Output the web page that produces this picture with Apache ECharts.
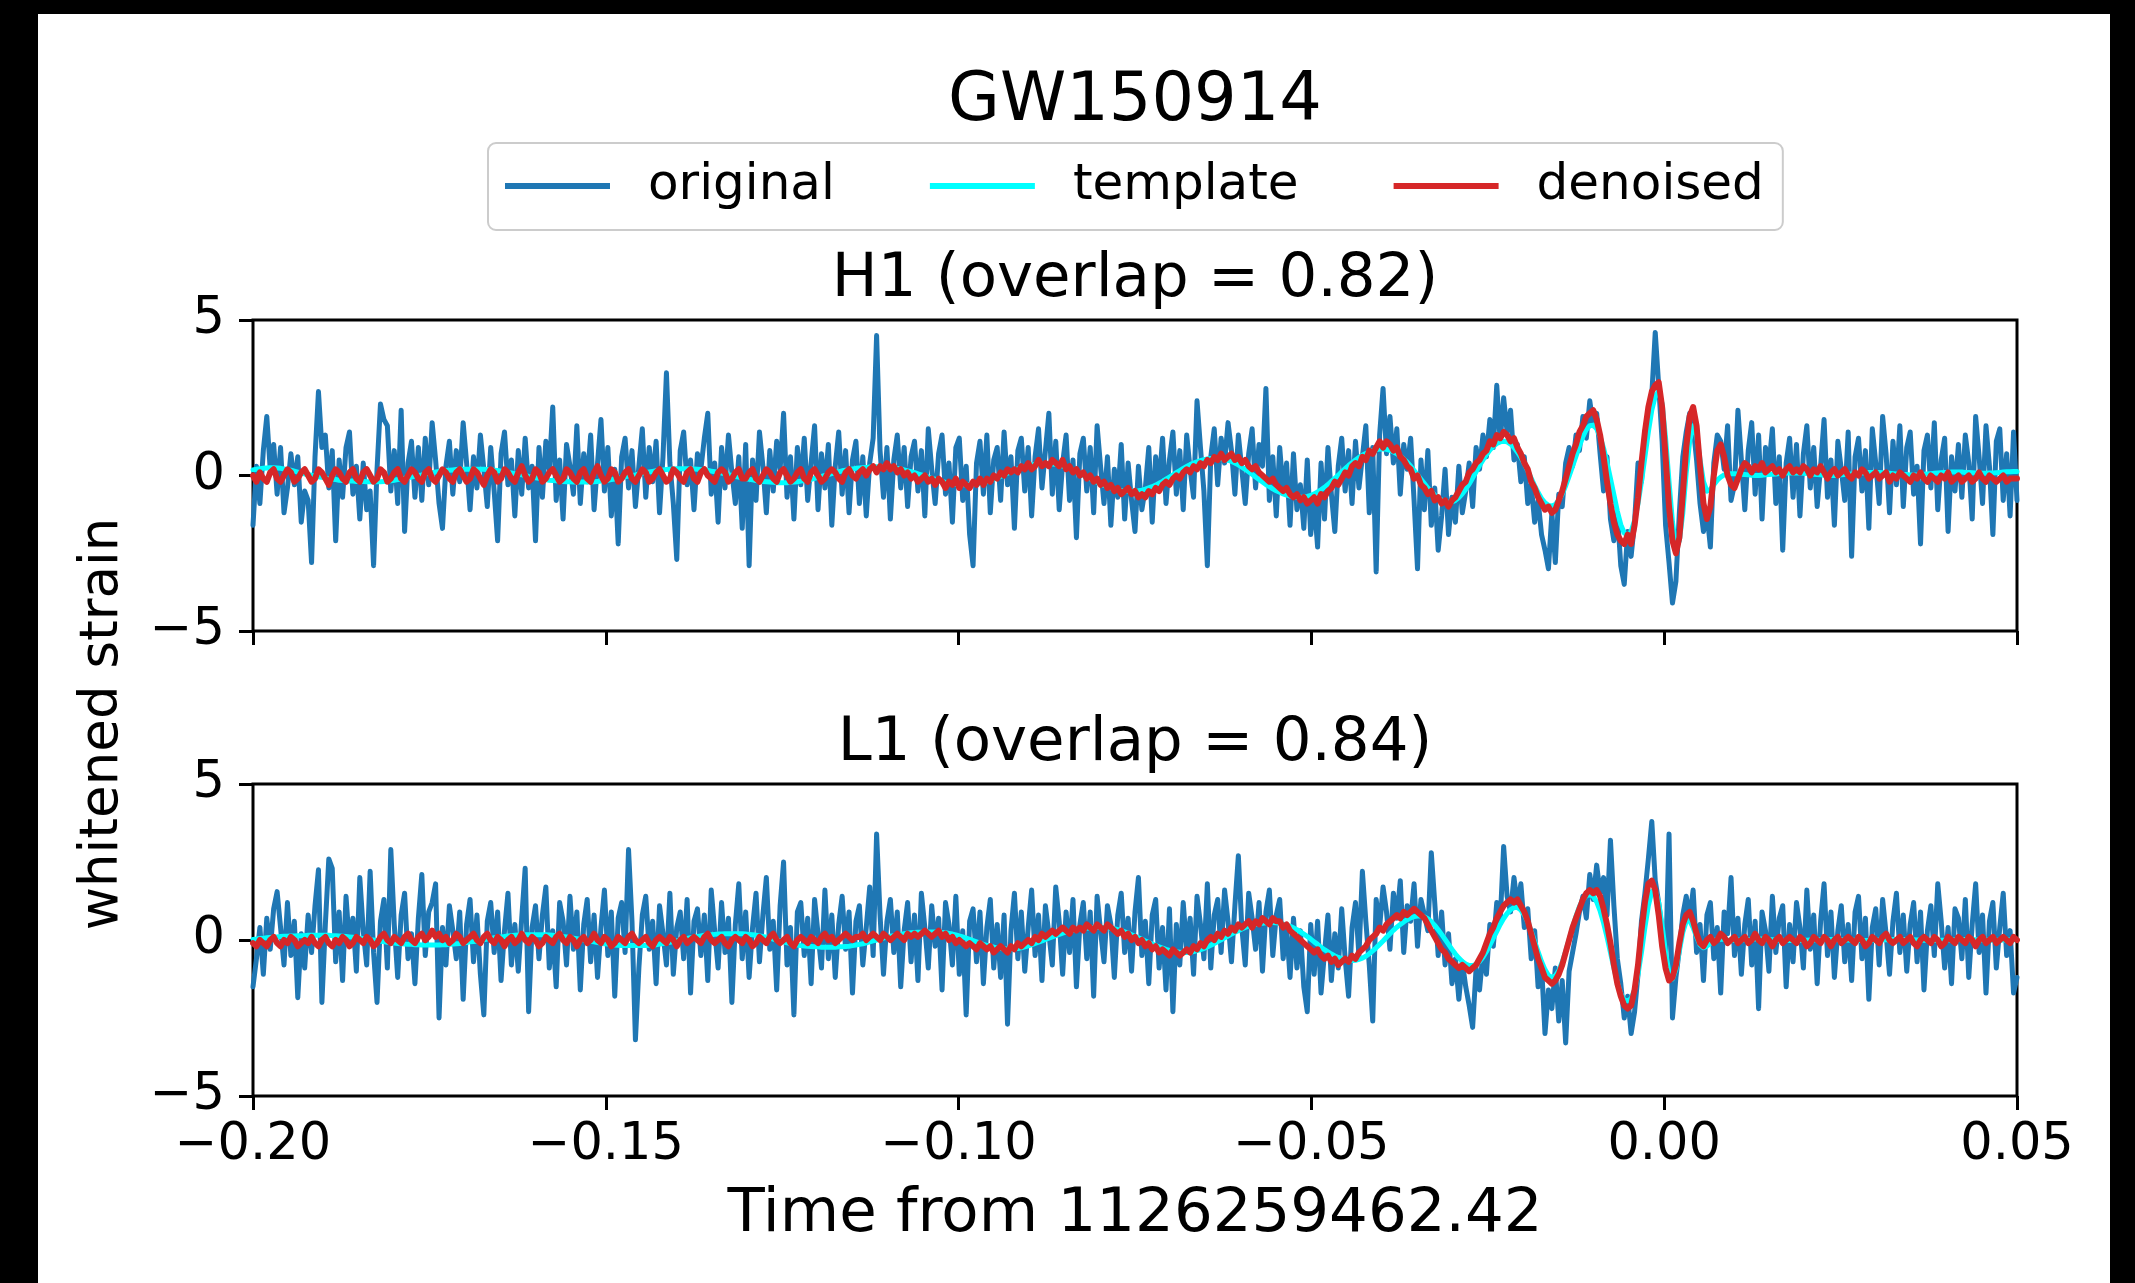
<!DOCTYPE html>
<html><head><meta charset="utf-8">
<script src="https://cdn.jsdelivr.net/npm/echarts@6/dist/echarts.min.js"></script>
<style>html,body{margin:0;padding:0;background:#000;}#c{width:2135px;height:1283px;}</style>
</head><body><div id="c"></div>
<script>
// time axis: samples start at T0 with step DT (seconds from 1126259462.42)
const T0 = -0.2;
const DT = 1 / 2048;
const X_MIN = -0.2, X_MAX = 0.05, X_STEP = 0.05;
const Y_MIN = -5, Y_MAX = 5, Y_STEP = 5;
const seriesNames = ['original', 'template', 'denoised'];
const panelTitles = ['H1 (overlap = 0.82)', 'L1 (overlap = 0.84)'];

const h1Original = [
-1.6,0.3,-0.9,0.8,1.9,0.2,1.0,-0.6,0.9,-1.2,-0.4,0.7,-0.3,0.6,-1.5,-0.5,
-0.8,-2.8,0.6,2.7,0.9,1.3,-0.4,0.8,-2.1,0.5,-0.7,0.9,1.4,-0.6,0.3,-1.4,
0.4,-1.1,-0.5,-2.9,0.2,2.3,1.8,1.6,-0.5,0.8,-0.9,2.1,-1.8,0.4,1.1,-0.7,
0.9,-0.8,1.2,-0.3,1.7,0.5,-0.9,-1.7,0.3,1.1,-0.6,0.8,-0.2,1.7,0.4,-1.1,
0.6,-0.4,1.3,0.2,-1.0,0.9,-0.5,-2.1,0.7,1.4,-0.3,0.5,-1.3,0.8,-0.6,1.2,
-0.4,0.3,-2.1,0.9,-0.7,1.1,0.2,2.2,-0.8,0.5,-1.4,1.0,0.3,-0.6,1.6,-0.9,
0.7,-0.2,1.3,-1.1,0.4,1.8,-0.5,0.9,-1.3,0.2,-2.2,0.6,1.2,-0.4,0.8,-1.0,
0.3,1.5,-0.7,0.9,-0.2,1.1,-1.2,0.6,3.3,0.4,-0.9,-2.7,0.8,1.4,-0.3,0.5,
-1.1,0.7,0.2,1.2,2.0,-0.6,0.4,-1.5,0.9,-0.4,1.3,0.1,-0.9,0.6,-1.7,1.0,
-2.9,0.5,-0.8,1.4,0.3,-1.2,0.8,-0.5,1.1,0.2,2.0,-0.7,0.6,-1.4,0.9,-0.3,
1.2,-0.8,0.4,1.6,-1.1,0.7,-0.4,1.0,-1.6,0.3,1.4,-0.6,0.8,-1.2,0.5,1.1,
-0.9,0.6,-1.3,0.4,1.2,4.5,0.8,-0.7,0.9,-1.4,0.5,1.3,-0.4,0.9,-1.0,0.6,
1.1,-0.5,0.8,-1.3,1.5,0.2,-0.9,0.7,1.3,-0.6,0.4,-1.5,0.9,1.2,-0.8,0.3,
-1.9,-2.9,0.4,1.1,-0.6,1.3,-1.2,0.5,0.9,-0.8,1.4,-0.3,0.6,-1.7,0.8,1.2,
-0.5,0.9,-1.3,0.6,1.5,-0.4,0.8,2.0,-0.6,1.1,-1.1,0.4,1.3,-0.8,0.5,-2.0,
0.7,1.2,-0.5,0.9,-1.2,1.6,0.3,-0.9,0.6,-1.6,0.2,-0.7,1.0,-1.4,0.4,-0.8,
-1.8,0.3,-1.1,-0.4,0.9,-1.5,0.6,-0.3,1.2,-0.9,0.5,1.4,-0.6,0.8,-1.1,1.3,
0.2,-0.7,2.4,0.9,-0.5,-2.9,0.6,1.5,-0.3,1.2,0.4,1.7,0.8,-0.6,1.3,0.2,
-0.9,0.7,1.5,-0.4,1.0,0.3,2.8,-0.8,0.6,-1.3,0.9,-0.5,0.4,-1.6,0.7,-1.1,
-0.3,-1.7,0.5,-1.9,-0.8,-2.3,0.4,-1.4,0.9,-0.6,-1.8,0.3,1.2,-0.5,0.8,-0.9,
1.1,-0.4,0.6,1.6,-1.2,0.9,-3.1,1.3,2.8,0.7,1.9,0.4,1.5,-0.6,1.0,0.2,
1.2,-0.8,-3.0,0.5,-1.1,0.8,-1.6,-0.4,-2.4,-1.3,0.2,-1.9,-0.7,-1.5,0.3,-1.2,
-0.5,0.4,-1.0,0.9,0.2,1.3,0.6,1.8,0.9,2.9,1.1,2.5,1.4,2.1,0.5,1.0,
-0.2,0.6,-0.9,-0.3,-1.5,-0.8,-1.9,-2.4,-3.0,-1.2,-2.8,-0.6,-1.0,0.4,0.9,0.3,
1.3,0.8,1.9,1.2,2.4,1.6,2.0,0.7,-0.5,0.6,-1.4,-2.1,-1.2,-2.9,-3.5,-1.8,
-2.6,-1.5,0.4,-0.2,1.4,2.0,2.6,4.6,2.9,1.1,-1.6,-2.8,-4.1,-3.4,-1.2,0.6,
1.4,2.0,1.6,0.5,-0.9,-1.8,-1.2,-2.3,0.4,1.3,1.1,0.2,1.6,-0.8,-0.3,2.1,
0.5,-1.1,0.8,1.7,-0.6,1.3,-1.4,0.9,0.3,1.5,-0.9,0.6,-2.4,0.4,1.2,-0.7,
1.0,-1.3,0.7,1.6,-0.4,0.9,-1.0,0.3,1.8,-0.7,0.5,-1.6,1.1,0.2,-0.8,1.4,
-2.6,0.6,1.2,-0.5,0.8,-1.7,1.5,0.4,-0.9,1.9,0.7,-1.2,1.1,-0.3,1.6,-1.0,
0.9,1.4,-0.6,0.3,-2.2,0.8,1.3,-0.4,1.7,-1.1,0.5,1.2,-1.8,0.6,-0.5,1.0,
-0.7,1.3,0.4,-1.4,1.9,0.6,-0.9,1.6,0.3,-1.9,1.1,1.5,-0.8,0.7,-1.3,1.4,
-0.8];

const h1Template = [
.18,.2,.22,.23,.24,.25,.25,.24,.23,.21,.19,.17,.14,.11,.08,.05,
.03,.01,-.02,-.04,-.06,-.08,-.1,-.12,-.13,-.15,-.16,-.17,-.18,-.18,-.19,-.19,
-.19,-.2,-.2,-.2,-.2,-.2,-.19,-.18,-.17,-.15,-.13,-.11,-.09,-.07,-.05,-.02,
0,.02,.05,.07,.09,.11,.13,.15,.16,.17,.18,.19,.2,.2,.2,.2,
.2,.2,.2,.2,.19,.18,.17,.16,.14,.12,.1,.08,.06,.04,.02,0,
-.03,-.05,-.07,-.09,-.11,-.13,-.15,-.16,-.17,-.18,-.19,-.2,-.2,-.21,-.21,-.21,
-.21,-.21,-.2,-.2,-.19,-.18,-.16,-.15,-.13,-.11,-.09,-.07,-.04,-.02,0,.02,
.05,.07,.09,.11,.13,.15,.17,.18,.19,.2,.21,.22,.22,.22,.22,.22,
.21,.2,.19,.18,.16,.14,.12,.1,.08,.05,.03,0,-.03,-.05,-.08,-.1,
-.12,-.14,-.16,-.18,-.19,-.2,-.21,-.22,-.23,-.23,-.23,-.23,-.22,-.21,-.2,-.18,
-.16,-.14,-.12,-.09,-.06,-.03,0,.03,.06,.09,.12,.15,.17,.19,.21,.23,
.24,.25,.26,.27,.27,.28,.28,.28,.27,.26,.25,.23,.21,.18,.15,.12,
.09,.05,.02,-.02,-.05,-.09,-.12,-.16,-.19,-.22,-.24,-.26,-.28,-.29,-.3,-.3,
-.3,-.29,-.28,-.26,-.23,-.2,-.16,-.12,-.08,-.03,.02,.07,.12,.17,.21,.25,
.28,.31,.34,.36,.37,.38,.38,.38,.37,.36,.33,.3,.26,.22,.17,.12,
.07,.01,-.05,-.11,-.17,-.22,-.27,-.32,-.36,-.4,-.43,-.46,-.48,-.49,-.5,-.5,
-.5,-.49,-.47,-.44,-.4,-.36,-.31,-.25,-.19,-.12,-.05,.02,.09,.16,.23,.29,
.35,.4,.44,.48,.51,.53,.55,.55,.55,.54,.52,.49,.45,.4,.34,.27,
.2,.12,.04,-.05,-.13,-.21,-.29,-.36,-.43,-.49,-.54,-.59,-.63,-.66,-.68,-.7,
-.7,-.69,-.67,-.64,-.59,-.53,-.46,-.38,-.29,-.19,-.09,.01,.12,.22,.32,.41,
.5,.58,.65,.71,.76,.8,.83,.85,.85,.84,.81,.76,.7,.62,.53,.43,
.3,.16,.02,-.12,-.26,-.4,-.52,-.63,-.72,-.79,-.84,-.86,-.85,-.8,-.71,-.59,
-.44,-.27,-.08,.12,.32,.5,.67,.82,.94,1.03,1.08,1.1,1.08,1.01,.9,.75,
.58,.38,.15,-.09,-.33,-.55,-.74,-.88,-.96,-.98,-.93,-.8,-.6,-.33,-.02,.3,
.62,.95,1.25,1.48,1.6,1.62,1.5,1.25,.88,.42,-.1,-.62,-1.15,-1.58,-1.85,-1.93,
-1.8,-1.45,-.9,-.2,.6,1.4,2.1,2.55,2.7,2.3,1.2,-.2,-1.5,-2.3,-2.1,-1.2,
.1,1.1,1.6,1.3,.5,-.2,-.5,-.45,-.3,-.15,-.05,.02,.05,.06,.06,.05,
.04,.03,.02,.01,0,0,.01,.02,.03,.04,.05,.06,.07,.08,.08,.08,
.08,.08,.07,.06,.05,.04,.03,.02,.01,0,0,0,.01,.02,.03,.04,
.05,.06,.07,.08,.09,.1,.1,.1,.1,.09,.08,.07,.06,.05,.04,.03,
.03,.02,.02,.02,.03,.04,.05,.06,.07,.08,.09,.1,.1,.11,.11,.11,
.11,.1,.1,.09,.08,.08,.07,.07,.08,.08,.09,.1,.11,.12,.12,.13,
.13];

const h1Denoised = [
0.0,-0.2,0.1,-0.1,-0.2,0.1,0.2,-0.1,-0.2,0.0,0.2,0.1,-0.2,-0.1,0.1,0.2,
0.0,-0.2,-0.1,0.2,0.1,-0.1,-0.3,0.0,0.2,0.1,-0.1,-0.2,0.1,0.2,-0.1,-0.2,
0.1,0.2,0.0,-0.2,-0.1,0.2,0.1,-0.2,-0.1,0.1,0.2,-0.1,-0.2,0.0,0.2,0.1,
-0.1,-0.2,0.1,0.2,-0.1,-0.2,0.0,0.2,0.1,-0.1,-0.2,0.1,0.2,0.0,-0.2,-0.1,
0.2,0.1,-0.1,-0.3,0.0,0.2,0.1,-0.2,-0.1,0.2,0.1,-0.1,-0.2,0.1,0.3,0.0,
-0.2,-0.1,0.2,0.1,-0.2,-0.1,0.1,0.2,0.0,-0.2,-0.1,0.2,0.1,-0.1,-0.2,0.1,
0.2,-0.1,-0.2,0.1,0.3,0.0,-0.2,-0.1,0.2,0.1,-0.2,-0.1,0.1,0.2,-0.1,-0.2,
0.0,0.2,0.1,-0.2,-0.1,0.1,0.2,0.0,-0.2,-0.1,0.2,0.1,-0.1,-0.2,0.1,0.2,
-0.1,-0.2,0.1,0.2,0.0,-0.1,-0.2,0.1,0.2,0.1,-0.2,-0.1,0.1,0.2,-0.1,-0.1,
0.1,0.2,-0.1,-0.2,0.0,0.2,0.1,-0.1,-0.2,0.1,0.2,0.0,-0.2,-0.1,0.1,0.2,
-0.1,-0.2,0.1,0.2,0.0,-0.2,-0.1,0.1,0.2,0.1,-0.1,-0.2,0.1,0.2,0.0,-0.1,
0.1,0.2,0.0,0.2,0.3,0.1,0.3,0.2,0.4,0.2,0.3,0.1,0.2,0.0,0.1,-0.1,
0.0,-0.2,-0.1,0.0,-0.2,-0.1,-0.3,-0.1,-0.2,-0.4,-0.2,-0.3,-0.1,-0.4,-0.2,-0.3,
-0.4,-0.2,-0.3,-0.1,-0.3,-0.1,-0.2,0.0,-0.1,0.1,0.0,0.2,0.1,0.2,0.1,0.3,
0.2,0.4,0.2,0.3,0.5,0.3,0.4,0.3,0.5,0.4,0.3,0.5,0.2,0.3,0.1,0.2,
0.0,0.1,-0.1,0.0,-0.2,-0.1,-0.3,-0.2,-0.4,-0.3,-0.5,-0.4,-0.6,-0.5,-0.4,-0.6,
-0.5,-0.7,-0.6,-0.7,-0.5,-0.6,-0.4,-0.5,-0.3,-0.2,-0.3,-0.1,0.0,-0.1,0.1,0.2,
0.1,0.3,0.2,0.4,0.3,0.5,0.4,0.6,0.5,0.7,0.5,0.6,0.7,0.5,0.6,0.4,
0.5,0.3,0.2,0.3,0.1,0.0,-0.1,-0.2,-0.1,-0.3,-0.4,-0.5,-0.4,-0.6,-0.7,-0.6,
-0.8,-0.7,-0.9,-0.8,-0.7,-0.9,-0.6,-0.7,-0.5,-0.4,-0.2,-0.3,-0.1,0.1,0.0,0.3,
0.4,0.3,0.6,0.5,0.8,0.7,0.9,1.1,0.9,1.1,1.0,0.8,0.9,0.6,0.5,0.3,
0.2,-0.1,0.0,-0.3,-0.4,-0.6,-0.5,-0.8,-0.7,-0.9,-0.8,-1.0,-0.8,-0.7,-0.5,-0.3,
-0.2,0.1,0.2,0.4,0.5,0.7,0.8,1.1,1.0,1.3,1.2,1.4,1.3,1.1,1.2,0.9,
0.7,0.4,0.2,-0.2,-0.4,-0.7,-0.9,-1.1,-1.0,-1.2,-1.1,-0.8,-0.5,-0.1,0.3,0.7,
1.0,1.4,1.6,1.9,2.0,2.1,1.8,1.3,0.6,-0.2,-0.9,-1.5,-1.9,-2.1,-2.2,-1.9,
-2.2,-1.6,-0.7,0.4,1.4,2.2,2.7,2.9,3.0,2.2,0.6,-1.0,-2.1,-2.5,-2.0,-0.6,
0.9,1.9,2.2,1.6,0.3,-0.9,-1.4,-1.0,0.0,0.8,1.0,0.6,0.0,-0.3,-0.4,-0.1,
0.2,0.4,0.3,0.1,0.3,0.2,0.4,0.1,0.2,0.3,0.1,0.2,0.0,0.2,0.3,0.1,
0.2,0.1,0.3,0.2,0.0,0.2,0.1,0.3,0.1,-0.1,0.1,0.2,0.0,0.1,0.2,0.0,
-0.1,0.1,0.0,0.2,0.1,-0.1,0.0,0.1,-0.1,0.0,0.1,-0.2,0.0,-0.1,0.1,0.0,
-0.1,-0.2,0.0,-0.1,0.1,-0.1,-0.2,0.0,-0.1,-0.2,0.0,-0.1,0.1,-0.2,-0.1,0.0,
-0.2,-0.1,0.0,-0.2,-0.1,0.1,-0.1,-0.2,0.0,-0.1,-0.2,-0.1,0.0,-0.2,-0.1,-0.1,
-0.1];

const l1Original = [
-1.5,-0.6,0.4,-1.1,0.7,-0.3,1.0,1.55,0.4,-0.8,1.2,-0.5,0.6,-1.85,0.2,-0.9,
0.8,-0.4,1.1,2.25,-2.0,0.5,2.6,2.3,-0.7,0.9,-1.3,1.4,-0.2,0.7,-1.0,2.0,
0.3,-0.8,2.2,-0.4,-2.0,0.6,1.3,-0.9,2.9,0.5,-1.2,0.8,1.5,-0.6,0.2,-1.4,
0.7,2.1,-0.5,0.9,1.2,1.8,-2.5,0.4,-0.8,1.1,0.3,-0.6,0.9,-1.9,0.5,1.3,
-0.7,0.8,-1.1,-2.4,0.6,1.2,-0.4,0.9,-1.3,0.3,1.5,-0.8,0.5,-1.0,0.7,2.3,
-2.3,0.4,1.1,-0.6,0.8,1.7,-0.9,0.3,-1.5,1.2,0.6,-0.8,1.4,-0.3,0.9,-1.6,
0.5,1.3,-0.7,0.8,-1.2,0.4,1.6,-0.5,0.9,-1.8,0.7,1.2,-0.4,2.9,0.6,-3.2,
-0.9,0.8,1.4,-0.3,0.6,-1.4,1.1,0.2,-0.8,1.5,-1.1,0.4,0.9,-0.6,1.3,-1.7,
0.6,1.0,-0.5,0.8,-1.3,1.6,0.3,-0.9,1.2,-0.4,0.7,-2.0,0.5,1.8,-0.6,0.9,
-1.2,0.4,1.5,-0.7,0.8,2.0,-0.3,0.6,-1.6,1.1,2.5,-0.8,0.4,-2.4,0.9,1.2,
-0.5,0.7,-1.4,1.3,0.2,-0.9,1.6,-0.6,0.8,-1.2,0.5,1.4,-0.3,0.9,-1.7,0.6,
1.1,-0.8,0.4,1.7,-0.5,3.4,0.8,-1.1,0.6,1.3,-0.4,0.9,-1.5,0.3,1.2,-0.7,
0.8,-1.3,1.5,0.4,-0.9,1.1,-0.2,0.7,-1.6,1.2,0.5,-0.8,1.4,-1.1,0.3,-2.4,
0.6,1.0,-0.7,0.9,-1.4,0.4,1.3,-0.9,0.5,-1.2,0.8,-2.7,0.3,1.5,-0.6,0.9,
-1.0,0.4,1.6,-0.5,0.8,-1.3,1.1,0.2,-0.8,1.7,0.6,-1.1,0.9,-0.4,1.3,-1.5,
0.5,1.2,-0.6,0.9,-1.8,1.4,0.3,-0.7,1.1,0.5,-1.2,0.8,1.5,-0.4,0.7,-1.0,
0.9,2.0,-0.5,0.6,-1.4,0.8,1.3,-0.9,0.4,-1.6,1.0,-2.3,0.5,-0.8,1.2,-0.3,
0.7,-1.1,1.4,0.5,-0.6,1.8,-0.9,0.8,1.3,-0.4,1.6,0.6,-0.7,1.1,2.7,0.4,
-0.8,1.5,0.7,-0.3,1.2,-1.0,0.9,1.6,-0.5,0.8,1.3,-0.6,0.4,-1.2,0.7,-0.9,
0.3,-1.5,-2.3,0.5,-1.1,0.6,-1.7,-0.4,0.8,-1.3,0.2,-0.9,1.0,-0.6,-1.8,0.4,
1.2,-0.5,2.2,0.6,-0.8,-2.6,1.3,0.4,1.7,0.9,-0.3,1.5,0.7,1.9,-0.4,1.1,
0.6,1.8,-0.2,1.3,0.8,0.3,2.8,1.2,-0.5,0.9,-0.8,0.2,-1.4,-0.6,-1.9,-0.7,
-1.5,-2.1,-2.8,-0.9,-1.6,-0.4,-1.1,0.5,-0.2,1.2,0.6,3.0,1.4,0.9,2.0,1.1,
1.8,0.4,1.0,-0.6,0.3,-1.5,-0.8,-3.0,-1.6,-2.2,-0.9,-2.6,-1.3,-3.3,-1.0,-0.4,
0.2,0.9,1.4,0.7,2.1,1.3,2.4,1.5,2.0,0.8,3.2,1.1,-0.6,-1.4,-2.5,-1.8,
-3.0,-2.3,-1.1,0.6,1.5,2.6,3.8,1.9,1.2,0.3,-0.8,3.4,-2.5,-1.2,-0.3,0.8,
1.4,0.7,1.6,-0.4,0.5,-1.3,0.8,1.2,-0.6,0.4,-1.7,0.9,0.2,2.0,-0.5,0.7,
-1.1,0.5,1.3,-0.8,0.6,-2.2,0.9,0.3,-1.0,1.4,-0.4,0.7,1.1,-1.5,0.5,-0.7,
1.2,0.4,-0.9,1.6,-0.3,0.8,-1.4,0.6,1.8,-0.5,0.9,-1.2,0.3,1.1,-0.7,0.5,
-1.3,0.9,1.4,-0.6,0.7,-1.9,0.4,1.0,-0.8,1.3,0.2,-1.1,0.6,1.5,-0.4,0.8,
-1.0,0.5,1.2,-0.7,0.9,-1.6,0.3,1.1,-0.5,1.8,0.6,-0.9,0.4,-1.4,1.0,0.7,
-0.6,1.3,-1.2,0.5,1.8,-0.4,0.8,-1.7,0.6,1.2,-0.9,0.4,1.5,-0.5,0.3,-1.7,
-1.2];

const l1Template = [
.02,.03,.05,.06,.07,.08,.09,.1,.11,.12,.12,.13,.13,.14,.14,.14,
.15,.15,.15,.15,.15,.15,.15,.14,.14,.13,.12,.11,.1,.09,.07,.06,
.04,.03,.01,0,-.02,-.04,-.05,-.07,-.08,-.1,-.11,-.12,-.13,-.14,-.14,-.15,
-.15,-.16,-.16,-.16,-.16,-.16,-.16,-.15,-.15,-.14,-.13,-.12,-.11,-.09,-.08,-.06,
-.05,-.03,-.01,.01,.03,.05,.07,.08,.1,.11,.13,.14,.15,.16,.16,.17,
.17,.17,.17,.17,.17,.17,.16,.15,.14,.13,.11,.1,.08,.06,.04,.02,
0,-.02,-.04,-.06,-.08,-.1,-.12,-.13,-.15,-.16,-.17,-.18,-.18,-.18,-.18,-.18,
-.18,-.18,-.18,-.17,-.16,-.15,-.13,-.11,-.09,-.07,-.05,-.02,0,.02,.05,.07,
.09,.11,.13,.15,.16,.17,.18,.19,.19,.2,.2,.2,.2,.2,.2,.19,
.18,.17,.15,.13,.11,.09,.06,.03,0,-.03,-.06,-.09,-.11,-.14,-.16,-.18,
-.19,-.2,-.21,-.22,-.22,-.23,-.23,-.23,-.23,-.23,-.22,-.22,-.21,-.2,-.18,-.16,
-.14,-.12,-.09,-.06,-.03,0,.03,.06,.09,.12,.14,.16,.18,.2,.22,.23,
.24,.25,.25,.26,.26,.26,.26,.25,.24,.23,.21,.19,.16,.13,.1,.06,
.02,-.02,-.06,-.1,-.14,-.17,-.2,-.23,-.26,-.27,-.28,-.29,-.29,-.28,-.27,-.25,
-.22,-.19,-.15,-.11,-.07,-.03,.02,.06,.1,.14,.18,.22,.25,.28,.31,.33,
.35,.37,.38,.39,.4,.4,.4,.4,.39,.38,.36,.33,.3,.26,.22,.17,
.12,.07,.02,-.03,-.08,-.13,-.18,-.22,-.26,-.3,-.33,-.36,-.38,-.39,-.4,-.4,
-.39,-.37,-.34,-.31,-.27,-.22,-.17,-.11,-.05,.01,.07,.13,.19,.25,.3,.35,
.4,.44,.47,.5,.52,.54,.55,.56,.56,.55,.54,.51,.48,.44,.39,.33,
.26,.19,.11,.03,-.06,-.14,-.23,-.31,-.38,-.45,-.51,-.56,-.6,-.63,-.65,-.66,
-.65,-.62,-.58,-.52,-.44,-.35,-.25,-.14,-.03,.09,.2,.31,.41,.5,.58,.65,
.71,.75,.77,.77,.74,.68,.59,.47,.33,.18,.02,-.14,-.3,-.45,-.58,-.69,
-.77,-.82,-.82,-.78,-.69,-.55,-.37,-.16,.06,.28,.5,.69,.85,.97,1.04,1.04,
.96,.8,.57,.28,-.05,-.38,-.69,-.95,-1.13,-1.2,-1.15,-.98,-.71,-.37,.01,.4,
.76,1.07,1.3,1.42,1.45,1.4,1.22,.93,.55,.1,-.4,-.9,-1.36,-1.72,-1.92,-1.95,
-1.88,-1.6,-1.1,-.4,.4,1.1,1.55,1.6,1.2,.45,-.4,-1.05,-1.25,-.95,-.35,.25,
.6,.62,.4,.1,-.15,-.25,-.2,-.1,-.02,.02,.03,.02,0,-.01,-.01,0,
0,.01,.02,.02,.03,.03,.03,.02,.02,.01,0,-.01,-.01,-.02,-.02,-.02,
-.02,-.02,-.01,-.01,0,0,.01,.01,.02,.02,.02,.02,.01,.01,0,0,
-.01,-.01,-.02,-.02,-.02,-.02,-.01,-.01,0,0,.01,.01,.02,.02,.02,.02,
.02,.01,.01,0,0,-.01,-.01,-.02,-.02,-.02,-.01,-.01,0,0,.01,.01,
.02,.02,.02,.02,.01,.01,0,0,-.01,-.01,-.01,-.01,0,0,.01,.01,
.01];

const l1Denoised = [
-0.1,-0.2,0.0,-0.1,-0.2,0.0,0.1,-0.1,-0.2,0.0,-0.1,0.1,0.0,-0.2,-0.1,0.0,
-0.1,0.1,-0.1,-0.2,0.0,0.1,-0.1,-0.2,0.0,-0.1,0.1,0.0,-0.2,-0.1,0.1,0.0,
-0.1,0.1,0.0,-0.2,-0.1,0.1,0.2,0.0,-0.1,0.1,0.0,-0.1,0.1,0.2,0.0,-0.1,
0.1,0.2,0.0,0.1,0.3,0.1,0.2,0.0,0.1,-0.1,0.0,0.2,0.1,-0.1,0.0,0.1,
0.2,0.0,-0.1,0.1,0.2,0.0,-0.1,0.1,0.0,-0.2,0.0,0.1,-0.1,0.0,0.2,0.0,
-0.1,0.1,0.0,-0.2,-0.1,0.1,0.0,-0.1,0.1,0.2,0.0,-0.1,0.1,0.0,-0.2,0.0,
0.1,-0.1,0.0,0.2,0.0,-0.1,0.1,0.0,-0.2,-0.1,0.1,0.0,-0.1,0.1,0.2,0.0,
-0.1,0.0,0.1,-0.1,-0.2,0.0,0.1,0.0,-0.1,0.1,0.0,-0.2,0.0,0.1,-0.1,0.0,
0.1,0.0,-0.1,0.1,0.2,0.0,-0.1,0.0,0.1,-0.1,-0.2,0.0,0.1,0.0,-0.1,0.1,
0.0,-0.2,-0.1,0.1,0.0,-0.1,0.1,0.2,0.0,-0.1,0.0,0.1,-0.1,-0.2,0.0,0.1,
0.0,-0.1,0.1,0.0,-0.1,0.1,0.2,0.0,0.1,-0.1,0.0,0.1,0.2,0.1,0.0,0.1,
0.1,0.2,0.0,0.1,0.2,0.1,0.0,0.2,0.1,0.0,0.1,0.2,0.1,0.0,0.2,0.1,
0.2,0.1,0.2,0.3,0.2,0.1,0.2,0.3,0.1,0.2,0.0,0.1,-0.1,0.0,-0.1,-0.2,
-0.1,-0.2,-0.3,-0.1,-0.2,-0.3,-0.2,-0.4,-0.3,-0.2,-0.3,-0.4,-0.2,-0.3,-0.1,-0.2,
-0.1,0.0,-0.1,0.1,0.0,0.2,0.1,0.2,0.3,0.2,0.3,0.4,0.3,0.2,0.4,0.3,
0.4,0.3,0.5,0.4,0.3,0.5,0.4,0.3,0.5,0.4,0.3,0.2,0.3,0.1,0.2,0.0,
0.1,-0.1,0.0,-0.2,-0.1,-0.3,-0.2,-0.4,-0.3,-0.4,-0.5,-0.3,-0.4,-0.5,-0.4,-0.3,
-0.4,-0.2,-0.3,-0.1,-0.2,0.0,0.1,0.0,0.2,0.1,0.3,0.2,0.4,0.3,0.5,0.4,
0.5,0.6,0.4,0.6,0.5,0.7,0.6,0.5,0.7,0.6,0.6,0.4,0.5,0.3,0.2,0.1,
0.0,-0.1,-0.2,-0.3,-0.4,-0.3,-0.5,-0.6,-0.5,-0.7,-0.6,-0.8,-0.7,-0.6,-0.7,-0.5,
-0.6,-0.4,-0.3,-0.2,0.0,0.1,0.2,0.4,0.3,0.5,0.6,0.7,0.8,0.7,0.9,0.8,
0.9,1.0,0.9,0.8,0.7,0.5,0.3,0.1,-0.1,-0.3,-0.4,-0.6,-0.7,-0.8,-0.9,-0.8,
-0.9,-1.0,-0.9,-0.8,-0.6,-0.4,-0.1,0.2,0.4,0.7,0.9,1.1,1.2,1.3,1.2,1.3,
1.1,0.9,0.6,0.2,-0.2,-0.6,-0.9,-1.2,-1.3,-1.4,-1.3,-1.1,-0.8,-0.4,0.0,0.4,
0.7,1.0,1.3,1.5,1.6,1.5,1.6,1.4,1.0,0.5,-0.1,-0.8,-1.4,-1.8,-2.1,-2.2,
-2.1,-1.6,-0.8,0.3,1.2,1.8,1.9,1.6,0.8,-0.2,-0.9,-1.3,-1.2,-0.8,-0.1,0.5,
0.8,0.9,0.6,0.2,-0.1,-0.2,0.0,0.1,-0.1,0.0,0.2,0.1,-0.1,0.0,0.1,-0.1,
0.0,0.1,-0.1,0.0,0.2,0.0,-0.1,0.1,0.0,-0.2,0.0,0.1,-0.1,0.0,0.1,0.0,
-0.1,0.1,0.0,-0.2,-0.1,0.1,0.0,-0.1,0.1,0.0,-0.2,0.0,0.1,-0.1,0.0,0.1,
0.0,-0.1,0.1,0.0,-0.2,-0.1,0.1,0.0,-0.1,0.1,0.2,0.0,-0.1,0.0,0.1,-0.1,
0.0,0.1,-0.1,-0.2,0.0,0.1,0.0,-0.1,0.1,0.0,-0.2,-0.1,0.1,0.0,-0.1,0.1,
0.0,-0.1,0.1,0.0,-0.2,0.0,0.1,-0.1,0.0,0.1,-0.1,0.0,0.1,0.0,-0.1,0.1,
0.0];

const COLORS = { original: '#1f77b4', template: '#00ffff', denoised: '#d62728' };
const WIDTHS = { original: 5, template: 5, denoised: 6 };
const FONT = 'DejaVu Sans';

function toPairs(arr) { return arr.map((v, i) => [T0 + i * DT, v]); }
function fmtMinus(v, d) {
  if (Math.abs(v) < 1e-9) return (0).toFixed(d);
  return (v < 0 ? '\u2212' : '') + Math.abs(v).toFixed(d);
}

const panels = [
  { top: 320, height: 311, data: { original: h1Original, template: h1Template, denoised: h1Denoised } },
  { top: 784, height: 312, data: { original: l1Original, template: l1Template, denoised: l1Denoised } }
];

const grids = [], xAxes = [], yAxes = [], series = [];
panels.forEach((p, k) => {
  grids.push({ left: 253, top: p.top, width: 1764, height: p.height, show: true,
    borderColor: '#000', borderWidth: 3, backgroundColor: 'rgba(0,0,0,0)', containLabel: false });
  xAxes.push({
    type: 'value', gridIndex: k, position: 'bottom', min: X_MIN, max: X_MAX, interval: X_STEP,
    axisLine: { show: false, onZero: false },
    axisTick: { show: true, length: 14, lineStyle: { color: '#000', width: 3 } },
    splitLine: { show: false },
    axisLabel: { show: k === 1, color: '#000', fontSize: 51, fontFamily: FONT, margin: 24,
      formatter: v => fmtMinus(v, 2) },
    name: k === 1 ? 'Time from 1126259462.42' : '',
    nameLocation: 'middle', nameGap: 89,
    nameTextStyle: { color: '#000', fontSize: 61, fontFamily: FONT }
  });
  yAxes.push({
    type: 'value', gridIndex: k, position: 'left', min: Y_MIN, max: Y_MAX, interval: Y_STEP,
    axisLine: { show: false, onZero: false },
    axisTick: { show: true, length: 14, lineStyle: { color: '#000', width: 3 } },
    splitLine: { show: false },
    axisLabel: { color: '#000', fontSize: 51, fontFamily: FONT, margin: 28,
      formatter: v => fmtMinus(v, 0) }
  });
  seriesNames.forEach(name => {
    series.push({
      name, type: 'line', xAxisIndex: k, yAxisIndex: k,
      data: toPairs(p.data[name]), symbol: 'none', showSymbol: false,
      animation: false, clip: true,
      lineStyle: { color: COLORS[name], width: WIDTHS[name], join: 'round', cap: 'round' },
      itemStyle: { color: COLORS[name] }
    });
  });
});

const chart = echarts.init(document.getElementById('c'), null, { renderer: 'canvas' });
chart.setOption({
  backgroundColor: '#000',
  animation: false,
  graphic: [
    { type: 'rect', z: -100, silent: true, shape: { x: 38, y: 14, width: 2072, height: 1269 }, style: { fill: '#fff' } },
    { type: 'text', x: 1135, y: 103, style: { text: 'GW150914', fontSize: 67, fontFamily: FONT, fill: '#000', align: 'center', verticalAlign: 'middle' } },
    { type: 'text', x: 1135, y: 280, style: { text: panelTitles[0], fontSize: 61, fontFamily: FONT, fill: '#000', align: 'center', verticalAlign: 'middle' } },
    { type: 'text', x: 1135, y: 744, style: { text: panelTitles[1], fontSize: 61, fontFamily: FONT, fill: '#000', align: 'center', verticalAlign: 'middle' } },
    { type: 'text', x: 103, y: 724, rotation: Math.PI / 2, style: { text: 'whitened strain', fontSize: 53, fontFamily: FONT, fill: '#000', align: 'center', verticalAlign: 'middle' } }
  ],
  legend: {
    data: seriesNames.map(n => ({ name: n, icon: 'rect', itemStyle: { color: COLORS[n] } })),
    left: 488, top: 143, orient: 'horizontal',
    padding: [15, 19, 16, 17], itemGap: 95, itemWidth: 105, itemHeight: 6,
    backgroundColor: '#fff', borderColor: '#cccccc', borderWidth: 2, borderRadius: 8,
    textStyle: { color: '#000', fontSize: 50, fontFamily: FONT, lineHeight: 56, padding: [0, 0, 0, 33] }
  },
  grid: grids, xAxis: xAxes, yAxis: yAxes, series
});
</script></body></html>
